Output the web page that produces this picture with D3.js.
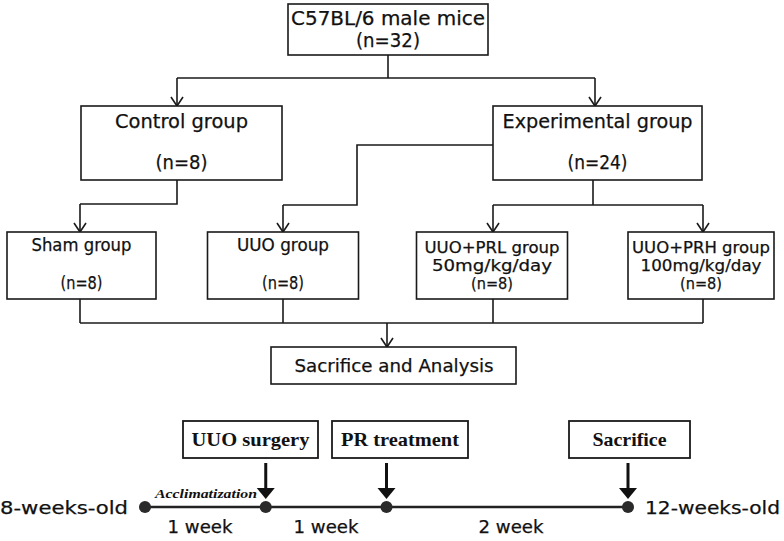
<!DOCTYPE html>
<html>
<head>
<meta charset="utf-8">
<script src="https://cdn.jsdelivr.net/npm/d3@7"></script>
<style>
  html, body { margin: 0; padding: 0; background: #fff; }
  svg { display: block; }
</style>
</head>
<body>
<svg id="chart" width="784" height="541"></svg>
<script>
// ---------------- DATA ----------------
const totalLabel = "C57BL/6 male mice";
const totalN = 32;
const armLabels = ["Control group", "Experimental group"];
const armN = [8, 24];
const groupLabels = ["Sham group", "UUO group", "UUO+PRL group", "UUO+PRH group"];
const groupDoses = ["", "", "50mg/kg/day", "100mg/kg/day"];
const groupN = [8, 8, 8, 8];
const groupArm = [0, 1, 1, 1];
const finalLabel = "Sacrifice and Analysis";
const timelineWeeks = [8, 9, 10, 12];
const eventLabels = ["", "UUO surgery", "PR treatment", "Sacrifice"];
const intervalLabels = ["1 week", "1 week", "2 week"];
const endLabels = ["8-weeks-old", "12-weeks-old"];
const phaseNote = "Acclimatization";

// ---------------- LAYOUT ----------------
const svg = d3.select("#chart");
const SANS = "'DejaVu Sans', 'Liberation Sans', sans-serif";
const SERIF = "'Liberation Serif', 'DejaVu Serif', serif";
const LW = 1.6;

const groupX = d3.scaleOrdinal().domain(groupLabels).range([81.5, 283, 492, 701]);
const groupW = d3.scaleOrdinal().domain(groupLabels).range([149, 151, 151, 146]);
const armX = d3.scaleOrdinal().domain(armLabels).range([177, 595]);
const armBox = d3.scaleOrdinal().domain(armLabels).range([[81, 282], [493, 702]]);

const row = { topY0: 4, topY1: 55, busY1: 78, armY0: 106, armY1: 180, bus2: 205,
              grpY0: 232, grpY1: 299, bus3: 323, finY0: 347, finY1: 384 };

const g = svg.append("g");

function box(x0, y0, x1, y1) {
  g.append("rect").attr("x", x0).attr("y", y0).attr("width", x1 - x0).attr("height", y1 - y0)
    .attr("fill", "#fff").attr("stroke", "#1a1a1a").attr("stroke-width", LW);
}
function line(pts) {
  g.append("path").attr("d", d3.line()(pts)).attr("fill", "none")
    .attr("stroke", "#1a1a1a").attr("stroke-width", LW);
}
function arrow(x, y0, y1) {
  line([[x, y0], [x, y1]]);
  line([[x - 6, y1 - 9], [x, y1], [x + 6, y1 - 9]]);
}
function text(str, x, y, size, width, opts = {}) {
  const t = g.append("text").attr("x", x).attr("y", y).attr("dy", "0.36em")
    .attr("text-anchor", opts.anchor || "middle")
    .attr("font-family", opts.family || SANS)
    .attr("font-size", size)
    .attr("font-weight", opts.weight || "normal")
    .attr("font-style", opts.style || "normal")
    .attr("fill", "#111")
    .attr("stroke", opts.weight === "bold" ? "none" : "#111")
    .attr("stroke-width", 0.25)
    .text(str);
  if (width) t.attr("textLength", width).attr("lengthAdjust", "spacingAndGlyphs");
  return t;
}

// Top box
const topCx = 388;
box(288, row.topY0, 488, row.topY1);
text(totalLabel, topCx, 18.5, 19, 194);
text(`(n=${totalN})`, topCx, 40, 19, 64);

// Top to arms
line([[topCx, row.topY1], [topCx, row.busY1]]);
line([[armX(armLabels[0]), row.busY1], [armX(armLabels[1]), row.busY1]]);
armLabels.forEach(a => arrow(armX(a), row.busY1, row.armY0));

// Arm boxes
const armTextW = [133, 190];
const armNW = [52, 60];
armLabels.forEach((a, i) => {
  const [x0, x1] = armBox(a);
  box(x0, row.armY0, x1, row.armY1);
  const cx = (x0 + x1) / 2;
  text(a, cx, 121, 19, armTextW[i]);
  text(`(n=${armN[i]})`, cx, 162, 19, armNW[i]);
});

// Control -> Sham
const ctrlCx = armX(armLabels[0]);
line([[ctrlCx, row.armY1], [ctrlCx, 204], [groupX(groupLabels[0]) - 1.5, 204]]);
arrow(groupX(groupLabels[0]) - 1.5, 204, row.grpY0);

// Experimental -> UUO (left side)
const expBox = armBox(armLabels[1]);
line([[expBox[0], 145], [357, 145], [357, row.bus2], [groupX(groupLabels[1]), row.bus2]]);
arrow(groupX(groupLabels[1]), row.bus2, row.grpY0);

// Experimental -> PRL / PRH
const expStem = 593;
line([[expStem, row.armY1], [expStem, row.bus2]]);
line([[groupX(groupLabels[2]) + 1, row.bus2], [groupX(groupLabels[3]) + 2, row.bus2]]);
arrow(groupX(groupLabels[2]) + 1, row.bus2, row.grpY0);
arrow(groupX(groupLabels[3]) + 2, row.bus2, row.grpY0);

// Group boxes
const grpTextW = [100, 92, 135, 138];
const doseW = [0, 0, 120, 121];
groupLabels.forEach((lab, i) => {
  const cx = groupX(lab), w = groupW(lab);
  box(cx - w / 2, row.grpY0, cx + w / 2, row.grpY1);
  if (groupDoses[i]) {
    text(lab, cx, 247, 15.5, grpTextW[i]);
    text(groupDoses[i], cx, 265, 15.5, doseW[i]);
    text(`(n=${groupN[i]})`, cx, 283, 15.5, 42);
  } else {
    text(lab, cx, 245, 17, grpTextW[i]);
    text(`(n=${groupN[i]})`, cx, 283, 17, 42);
  }
});

// Groups -> final
const busXs = groupLabels.map((lab, i) => groupX(lab) + [-1.5, 0, 1, 2][i]);
busXs.forEach(x => line([[x, row.grpY1], [x, row.bus3]]));
line([[busXs[0], row.bus3], [busXs[3], row.bus3]]);
const finCx = 387;
arrow(finCx, row.bus3, row.finY0);
box(271, row.finY0, 516, row.finY1);
text(finalLabel, (271 + 516) / 2 + 0.5, 365.5, 18, 199);

// ---------------- TIMELINE ----------------
const tx = d3.scaleLinear().domain([8, 12]).range([145, 628]);
const tY = 507;
g.append("line").attr("x1", tx(timelineWeeks[0])).attr("x2", tx(timelineWeeks[timelineWeeks.length - 1]))
  .attr("y1", tY).attr("y2", tY).attr("stroke", "#222").attr("stroke-width", 2.6);
g.selectAll("circle.tp").data(timelineWeeks).join("circle").attr("class", "tp")
  .attr("cx", d => tx(d)).attr("cy", tY).attr("r", 6).attr("fill", "#2a2a2a");

// event boxes and thick arrows
const evBoxes = [null, [183, 318], [332, 468], [569, 690]];
const evTextW = [0, 118, 118, 74];
timelineWeeks.forEach((w, i) => {
  if (!eventLabels[i]) return;
  const [x0, x1] = evBoxes[i];
  g.append("rect").attr("x", x0).attr("y", 421).attr("width", x1 - x0).attr("height", 37)
    .attr("fill", "#fff").attr("stroke", "#1a1a1a").attr("stroke-width", 1.8);
  text(eventLabels[i], (x0 + x1) / 2, 439.5, 19, evTextW[i], { family: SERIF, weight: "bold" });
  const x = tx(w);
  g.append("line").attr("x1", x).attr("x2", x).attr("y1", 463).attr("y2", 489)
    .attr("stroke", "#111").attr("stroke-width", 3);
  g.append("path").attr("d", d3.line()([[x - 9, 488], [x + 9, 488], [x, 499]]) + "Z")
    .attr("fill", "#111");
});

// acclimatization note
text(phaseNote, 206, 493, 12.5, 102, { family: SERIF, weight: "bold", style: "italic" });

// interval labels
const intervalX = [200, 326, 511];
intervalLabels.forEach((lab, i) => {
  text(lab, intervalX[i], 527, 18, 65);
});

// end labels
text(endLabels[0], 128, 507, 18.5, 128, { anchor: "end" });
text(endLabels[1], 645, 507, 18.5, 135, { anchor: "start" });
</script>
</body>
</html>
